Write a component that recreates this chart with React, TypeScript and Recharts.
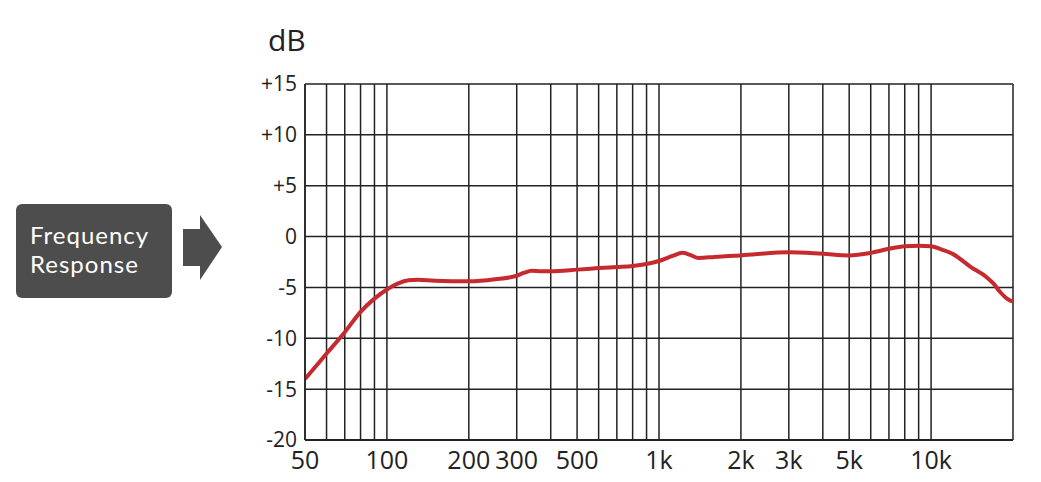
import { LineChart, Line, XAxis, YAxis, CartesianGrid } from 'recharts';

const freqs = [50, 55, 60, 70, 80, 90, 100, 110, 120, 130, 150, 200, 250, 300, 320, 340, 370, 400, 500, 600, 700, 800, 900, 1000, 1120, 1220, 1300, 1400, 1600, 2000, 3000, 4000, 5000, 6000, 7000, 8000, 9000, 10000, 11000, 12000, 14000, 16000, 17000, 18000, 19000, 20000];
const levels = [-14.0, -12.7, -11.5, -9.4, -7.4, -6.1, -5.2, -4.6, -4.3, -4.25, -4.35, -4.4, -4.2, -3.85, -3.55, -3.35, -3.4, -3.4, -3.25, -3.1, -3.0, -2.9, -2.7, -2.4, -1.9, -1.6, -1.8, -2.1, -2.0, -1.85, -1.55, -1.7, -1.85, -1.6, -1.2, -0.95, -0.9, -0.95, -1.3, -1.7, -3.0, -4.0, -4.65, -5.5, -6.1, -6.4];

const gridFreqs = [50, 60, 70, 80, 90, 100, 200, 300, 400, 500, 600, 700, 800, 900, 1000, 2000, 3000, 4000, 5000, 6000, 7000, 8000, 9000, 10000, 20000];
const freqLabels: Record<number, string> = { 50: '50', 100: '100', 200: '200', 300: '300', 500: '500', 1000: '1k', 2000: '2k', 3000: '3k', 5000: '5k', 10000: '10k' };
const dbTicks = [-20, -15, -10, -5, 0, 5, 10, 15];

const data = freqs.map((f, i) => ({ f, db: levels[i] }));

const font = '"Open Sans", sans-serif';

const boxLine = { position: 'absolute' as const, left: 14, fontFamily: 'Lato, sans-serif', fontSize: 24, letterSpacing: 1, lineHeight: '24px', whiteSpace: 'nowrap' as const };

export default function App() {
  return (
    <div style={{ position: 'absolute', left: 0, top: 0, width: 1041, height: 482, background: '#fff', fontFamily: font }}>
      {/* label box */}
      <div style={{ position: 'absolute', left: 16, top: 204, width: 156, height: 94, background: '#4d4d4d', borderRadius: 6, color: '#fff' }}>
        <div style={{ ...boxLine, top: 19 }}>Frequency</div>
        <div style={{ ...boxLine, top: 48 }}>Response</div>
      </div>
      <svg style={{ position: 'absolute', left: 180, top: 210 }} width={50} height={76}>
        <polygon points="3,19 20,19 20,5 42,37 20,70 20,56 3,56" fill="#4d4d4d" />
      </svg>
      <div style={{ position: 'absolute', left: 268, top: 19, fontSize: 30, color: '#222' }}>dB</div>
      <div style={{ position: 'absolute', left: 0, top: 0 }}>
        <LineChart width={1041} height={482} data={data} margin={{ top: 84, right: 28, bottom: 0, left: 245 }}>
          <CartesianGrid stroke="#222" strokeWidth={1.5} />
          <XAxis
            dataKey="f"
            type="number"
            scale="log"
            domain={[50, 20000]}
            allowDataOverflow
            ticks={gridFreqs}
            interval={0}
            tickFormatter={(v: number) => freqLabels[v] ?? ''}
            tickLine={false}
            axisLine={{ stroke: '#222', strokeWidth: 2 }}
            height={42}
            tickMargin={5}
            tick={{ fill: '#222', fontSize: 25, fontFamily: font }}
          />
          <YAxis
            type="number"
            domain={[-20, 15]}
            ticks={dbTicks}
            interval={0}
            tickFormatter={(v: number) => (v > 0 ? `+${v}` : `${v}`)}
            tickLine={false}
            axisLine={{ stroke: '#222', strokeWidth: 1.5 }}
            width={60}
            tick={{ fill: '#222', fontSize: 21, fontFamily: font }}
          />
          <Line type="monotone" dataKey="db" stroke="#c62a2f" strokeWidth={4} dot={false} isAnimationActive={false} />
        </LineChart>
      </div>
    </div>
  );
}
